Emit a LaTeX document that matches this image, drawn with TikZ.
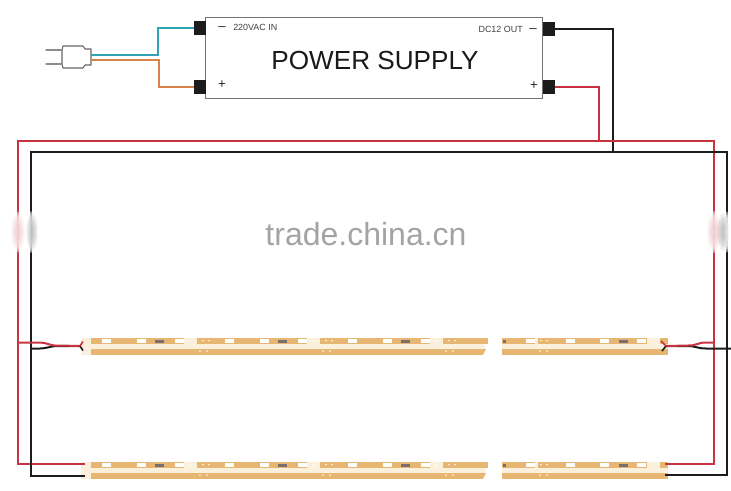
\documentclass[tikz,border=0pt]{standalone}
\usepackage{fontspec}
\setmainfont{Liberation Sans}
\definecolor{tan}{HTML}{E6B672}
\definecolor{cream}{HTML}{FBF0DC}
\definecolor{wred}{HTML}{C9323F}
\definecolor{wblack}{HTML}{1C1C1C}
\definecolor{wblue}{HTML}{2FA3B5}
\definecolor{worange}{HTML}{D9824A}
\definecolor{chip}{HTML}{77706E}
\tikzset{
 wire/.style={line width=1.5pt,line join=miter},
 redw/.style={wire,draw=wred},
 blackw/.style={wire,draw=wblack},
 term/.style={fill=wblack,draw=none,minimum width=8.6pt,minimum height=10.5pt,inner sep=0pt},
 small/.style={font=\fontsize{6.7pt}{7pt}\selectfont,text=black!75,inner sep=0pt},
 sign/.style={font=\fontsize{10pt}{10pt}\selectfont,text=black!85,inner sep=0pt},
 led/.style={fill=white,draw=none},
}
% one strip section: #1 left x, #2 top y, #3 width
\newcommand{\stripsec}[3]{%
 \fill[tan] (#1,#2) rectangle ++(#3,6);
 \fill[tan] (#1,#2+10.5) rectangle ++(#3,6.5);
 \fill[cream] (#1,#2+6) rectangle ++(#3,4.5);
}
\newcommand{\stripunit}[2]{% #1 left x, #2 top y: 123 px repeat
 \fill[led] (#1+18,#2+1) rectangle ++(9,4.2);
 \fill[led] (#1+53,#2+1) rectangle ++(9,4.2);
 \fill[chip] (#1+71,#2+1.7) rectangle ++(9,2.8);
 \fill[led] (#1+91,#2+1) rectangle ++(9,4.2);
 \fill[cream] (#1+100,#2) rectangle ++(13,6);
 \fill[tan] (#1+113,#2) rectangle ++(3,6);
 \fill[led] (#1+106,#2+3) circle (1);
 \fill[cream] (#1+119,#2+2.5) circle (1);
 \fill[cream] (#1+125,#2+2.5) circle (1);
 \fill[cream] (#1+116,#2+13) circle (1);
 \fill[cream] (#1+123,#2+13) circle (1);
}
\newcommand{\striprow}[1]{%
 \fill[cream] (81,#1) rectangle ++(10,17);
 \stripsec{91}{#1}{397}%
 \stripsec{502}{#1}{166}%
 \foreach \u in {84,207,330}{\stripunit{\u}{#1}}
 \fill[white] (484,#1+6) -- (489,#1+6) -- (489,#1+17) -- (483,#1+17) -- (486,#1+11) -- cycle;
 \fill[cream] (502,#1+6) rectangle ++(2,4.5);
 \fill[chip] (503,#1+1.7) rectangle ++(3,2.8);
 \fill[led] (526,#1+1) rectangle ++(9,4.2);
 \fill[cream] (535,#1) rectangle ++(3,6);
 \fill[cream] (541,#1+2.5) circle (1);
 \fill[cream] (547,#1+2.5) circle (1);
 \fill[cream] (540,#1+13) circle (1);
 \fill[cream] (547,#1+13) circle (1);
 \fill[led] (566,#1+1) rectangle ++(9,4.2);
 \fill[led] (600,#1+1) rectangle ++(9,4.2);
 \fill[chip] (619,#1+1.7) rectangle ++(9,2.8);
 \fill[led] (637,#1+1) rectangle ++(9,4.2);
 \fill[cream] (647,#1) rectangle ++(13,6);
 \fill[cream] (504,#1+6) rectangle ++(143,4.5);
}
\begin{document}
\begin{tikzpicture}[x=.75pt,y=-.75pt]
\useasboundingbox (0,0) rectangle (731,490);
% power supply
\node[draw=black!55,line width=.9pt,fill=white,minimum width=252.6pt,minimum height=61pt,inner sep=0pt] (psu) at (374,58) {};
\node[font=\fontsize{19.6pt}{21pt}\selectfont,text=black!90,inner sep=0pt] (title) at (375,60) {POWER SUPPLY};
\node[term] (tl1) at (200,28) {};
\node[term] (tl2) at (200,87) {};
\node[term] (tr1) at (549,29) {};
\node[term] (tr2) at (549,87) {};
\node[small,anchor=west] (lin) at (233,27) {220VAC IN};
\node[small,anchor=east] (lout) at (523,29) {DC12 OUT};
\node[sign] (mi1) at (222,29) {–};
\node[sign] (pl1) at (222,85) {+};
\node[sign] (mi2) at (533,31) {–};
\node[sign] (pl2) at (534,86) {+};
% plug
\draw[black!60,line width=.8pt,fill=white,line join=round] (62,50) -- (63,46) -- (83,46) -- (85,49) -- (91,49) -- (91,65) -- (85,65) -- (83,68) -- (63,68) -- (62,64) -- cycle;
\draw[black!45,line width=1.1pt,line cap=round] (46,50) -- (62,50);
\draw[black!45,line width=1.1pt,line cap=round] (46,64) -- (62,64);
\coordinate (pb) at (91,55.3);
\coordinate (po) at (91,59.8);
\draw[wire,draw=wblue] (pb) -- (158,55.3) |- (tl1.west);
\draw[wire,draw=worange] (po) -- (158.5,59.8) |- (tl2.west);
% strips
\striprow{338}
\striprow{462}
% wires
\coordinate (rj) at (599,141);
\coordinate (bj) at (613,152);
\coordinate (rbl) at (85,464);
\coordinate (bbl) at (85,476);
\coordinate (rbr) at (665,464);
\coordinate (bbr) at (665,475);
\draw[redw] (tr2.east) -| (rj);
\draw[blackw] (tr1.east) -| (bj);
\draw[redw] (rbl) -- (18,464) |- (714,141) |- (rbr);
\draw[blackw] (bbl) -- (31,476) |- (727,152) |- (bbr);
% tails, left
\coordinate (fl) at (80,346);
\coordinate (fr) at (666,346);
\draw[blackw] (31,348.5) -- (40,348.5) .. controls (47,348.5) and (50,346) .. (58,346) -- (fl);
\draw[redw] (18,342.5) -- (40,342.5) .. controls (47,342.5) and (50,346) .. (58,345.5) -- (fl);
\draw[blackw,line width=1.2pt] (83,350.5) -- (fl);
\draw[redw,line width=1.2pt] (83,341.5) -- (fl);
% tails, right
\draw[blackw] (731,348.5) -- (706,348.5) .. controls (698,348.5) and (695,346) .. (688,346) -- (fr);
\draw[redw] (714,342.5) -- (706,342.5) .. controls (698,342.5) and (695,346) .. (688,345.5) -- (fr);
\draw[blackw,line width=1.2pt] (662,351) -- (fr);
\draw[redw,line width=1.2pt] (661,341) -- (fr);
% washed-out patches over the risers
\foreach \cx in {25,720}{
 \foreach \ra/\rb in {17/22,14/20,12/18,10/15,8/12}{
  \fill[white,opacity=.5] (\cx,232) ellipse ({\ra} and {\rb});
 }
}
\foreach \ra/\rb in {6/19,5/17,4/15,3/13,2/10,1.5/8}{
 \fill[wblack,opacity=.045] (32,232) ellipse ({\ra} and {\rb});
 \fill[wblack,opacity=.045] (723,232) ellipse ({\ra} and {\rb});
 \fill[wred,opacity=.035] (18,232) ellipse ({\ra+1} and {\rb});
 \fill[wred,opacity=.035] (714,232) ellipse ({\ra+1} and {\rb});
}
% watermark
\node[font=\fontsize{24pt}{26pt}\selectfont,text=black!36,inner sep=0pt] (mark) at (366,234) {trade.china.cn};
\end{tikzpicture}
\end{document}
